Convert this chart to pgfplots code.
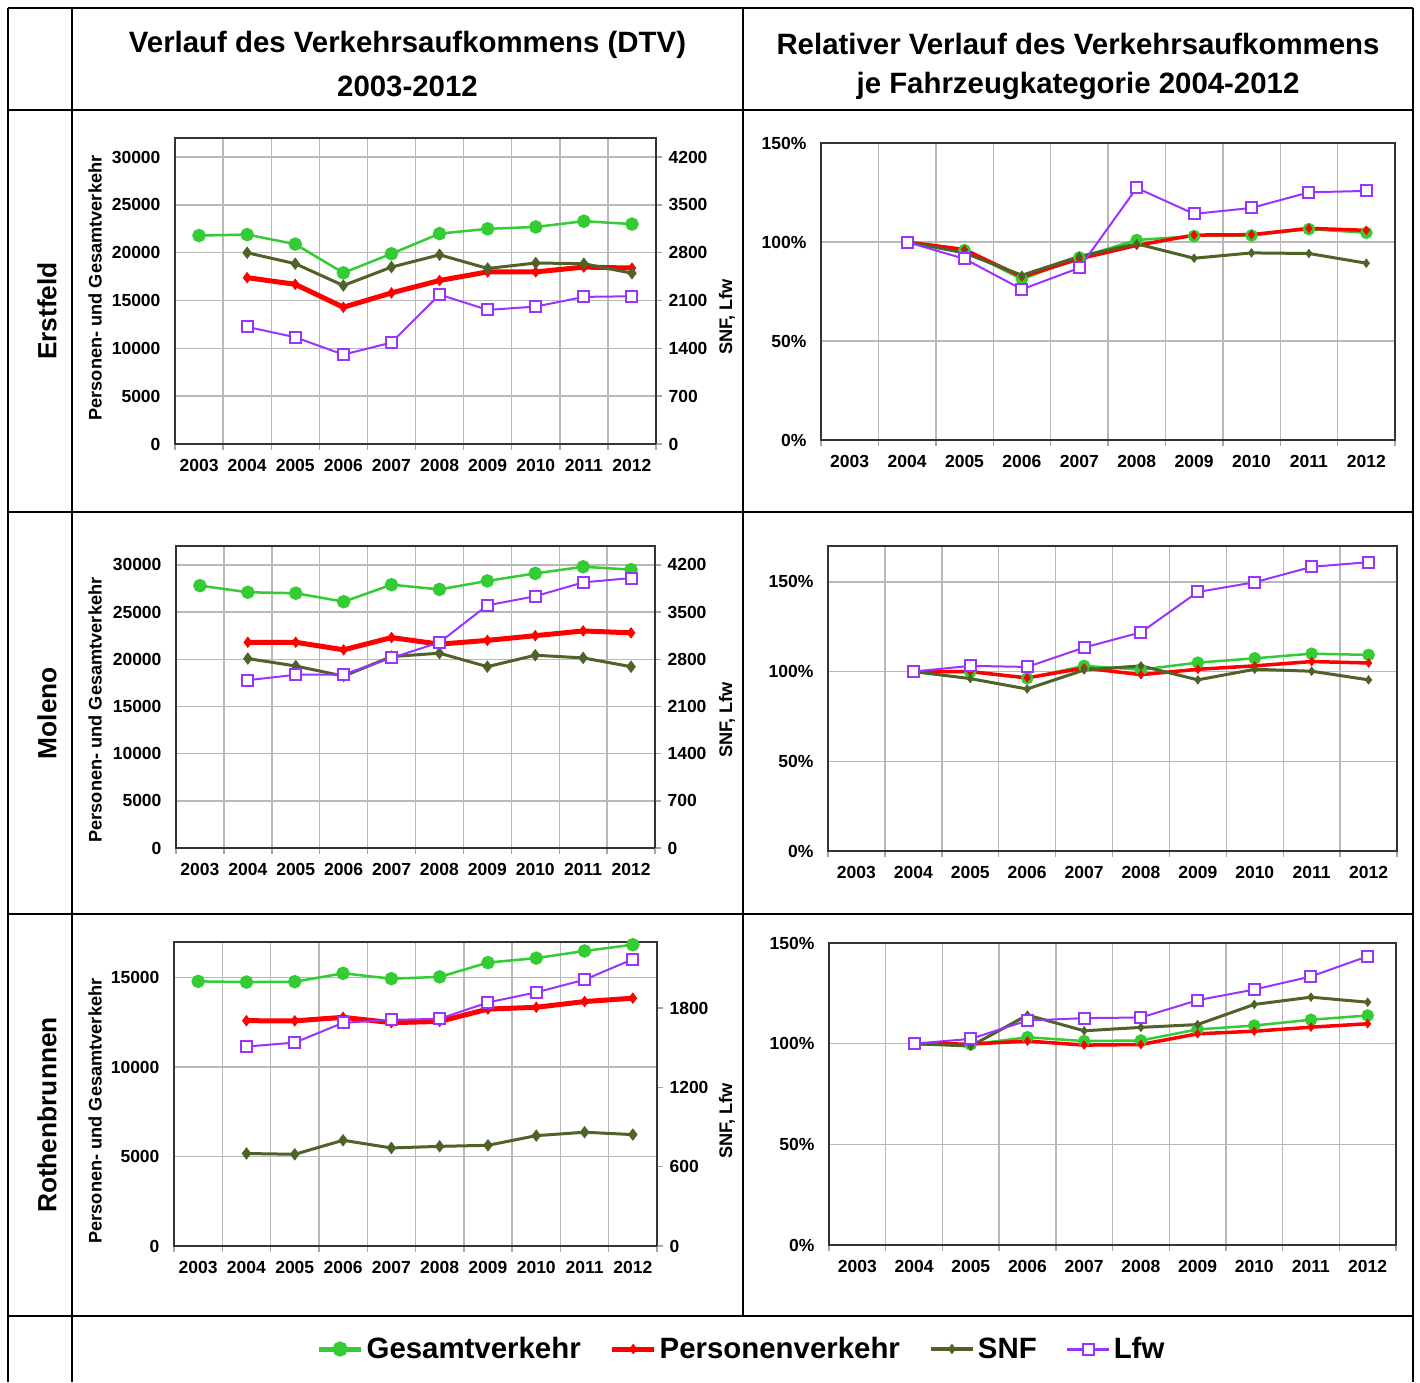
\documentclass[border=0pt]{standalone}
\usepackage{pgfplots}
\pgfplotsset{compat=1.18}
\usepackage{fontspec}
\setmainfont{Liberation Sans}
\definecolor{cGreen}{HTML}{33CC33}
\definecolor{cRed}{HTML}{FF0000}
\definecolor{cOlive}{HTML}{4F6228}
\definecolor{cPurple}{HTML}{9933FF}
\pgfplotsset{
  common/.style={
    scale only axis, anchor=south west, clip=false,
    xmin=0, xmax=10,
    tick align=outside, major tick length=6pt,
    axis line style={draw=black!80, line width=1.6pt},
    tick style={draw=black!35, line width=1.4pt},
    grid style={draw=black!28, line width=1.4pt},
    ticklabel style={font=\fontsize{17.5}{21}\selectfont\bfseries},
    /pgf/number format/assume math mode=true,
    /pgf/number format/1000 sep={},
    scaled y ticks=false,
  },
  xcats/.style={
    xtick={0,1,...,10}, xticklabels={}, xtick pos=left,
    xmajorgrids, ymajorgrids,
    extra x ticks={0.5,1.5,2.5,3.5,4.5,5.5,6.5,7.5,8.5,9.5},
    extra x tick labels={2003,2004,2005,2006,2007,2008,2009,2010,2011,2012},
    extra x tick style={major tick length=0pt, grid=none},
    xticklabel style={yshift=-12pt},
    ytick pos=left, ytick style={draw=none},
    yticklabel style={xshift=-5pt},
  },
  rightax/.style={
    axis x line=none, axis y line*=right, ytick pos=right,
    yticklabel style={xshift=3pt},
  },
  gv/.style={color=cGreen, line width=2.5pt, mark=*, mark size=5.5pt, mark options={solid}},
  pv/.style={color=cRed, line width=5pt, mark=diamond*, mark size=5pt, mark options={solid, line width=1pt}},
  snf/.style={color=cOlive, line width=3pt, mark=diamond*, mark size=5.5pt, mark options={solid, line width=1pt}},
  lfw/.style={color=cPurple, line width=2pt, mark=square*, mark size=5.5pt, mark options={solid, fill=white}},
  gvr/.style={color=cGreen, line width=2.5pt, mark=*, mark size=5pt, mark options={solid}},
  pvr/.style={color=cRed, line width=3.5pt, mark=diamond*, mark size=4pt, mark options={solid, line width=1pt}},
  snfr/.style={color=cOlive, line width=3pt, mark=diamond*, mark size=4pt, mark options={solid, line width=1pt}},
  lfwr/.style={color=cPurple, line width=2pt, mark=square*, mark size=5.5pt, mark options={solid, fill=white}},
}
\begin{document}
\begin{tikzpicture}
\fill[white] (0pt,0pt) rectangle (1420pt,-1382pt);
\useasboundingbox (0pt,0pt) rectangle (1420pt,-1382pt);

% ---------- Erstfeld absolute ----------
\begin{axis}[common, xcats, at={(175pt,-444pt)}, width=481pt, height=306pt,
  ymin=0, ymax=32000, ytick={0,5000,...,30000}]
\addplot[gv] coordinates {(0.5,21800)(1.5,21900)(2.5,20900)(3.5,17900)(4.5,19900)(5.5,22000)(6.5,22500)(7.5,22700)(8.5,23300)(9.5,23000)};
\addplot[pv] coordinates {(1.5,17400)(2.5,16700)(3.5,14300)(4.5,15800)(5.5,17100)(6.5,18000)(7.5,18000)(8.5,18500)(9.5,18400)};
\end{axis}
\begin{axis}[common, rightax, at={(175pt,-444pt)}, width=481pt, height=306pt,
  ymin=0, ymax=4480, ytick={0,700,...,4200}]
\addplot[snf] coordinates {(1.5,2800)(2.5,2640)(3.5,2320)(4.5,2590)(5.5,2770)(6.5,2570)(7.5,2650)(8.5,2640)(9.5,2500)};
\addplot[lfw] coordinates {(1.5,1715)(2.5,1563)(3.5,1309)(4.5,1485)(5.5,2188)(6.5,1963)(7.5,2012)(8.5,2154)(9.5,2163)};
\end{axis}

% ---------- Erstfeld relative ----------
\begin{axis}[common, xcats, at={(821pt,-440pt)}, width=574pt, height=297pt,
  ymin=0, ymax=150, ytick={0,50,100,150}, yticklabel={\pgfmathprintnumber{\tick}\%}]
\addplot[gvr] coordinates {(1.5,100)(2.5,95.9)(3.5,81.2)(4.5,92.2)(5.5,101.0)(6.5,103.0)(7.5,103.3)(8.5,106.5)(9.5,104.7)};
\addplot[pvr] coordinates {(1.5,100)(2.5,96.2)(3.5,82.4)(4.5,91.5)(5.5,98.3)(6.5,103.5)(7.5,103.7)(8.5,106.9)(9.5,105.9)};
\addplot[snfr] coordinates {(1.5,100)(2.5,94.5)(3.5,83.2)(4.5,92.7)(5.5,99.1)(6.5,91.8)(7.5,94.5)(8.5,94.2)(9.5,89.3)};
\addplot[lfwr] coordinates {(1.5,100)(2.5,91.5)(3.5,76.1)(4.5,86.9)(5.5,127.3)(6.5,114.2)(7.5,117.2)(8.5,125.1)(9.5,125.8)};
\end{axis}

% ---------- Moleno absolute ----------
\begin{axis}[common, xcats, at={(176pt,-848pt)}, width=479pt, height=302pt,
  ymin=0, ymax=32000, ytick={0,5000,...,30000}]
\addplot[gv] coordinates {(0.5,27800)(1.5,27100)(2.5,27000)(3.5,26100)(4.5,27900)(5.5,27400)(6.5,28300)(7.5,29100)(8.5,29800)(9.5,29500)};
\addplot[pv] coordinates {(1.5,21800)(2.5,21800)(3.5,21000)(4.5,22300)(5.5,21600)(6.5,22000)(7.5,22500)(8.5,23000)(9.5,22800)};
\end{axis}
\begin{axis}[common, rightax, at={(176pt,-848pt)}, width=479pt, height=302pt,
  ymin=0, ymax=4480, ytick={0,700,...,4200}]
\addplot[snf] coordinates {(1.5,2810)(2.5,2700)(3.5,2550)(4.5,2840)(5.5,2890)(6.5,2690)(7.5,2860)(8.5,2820)(9.5,2690)};
\addplot[lfw] coordinates {(1.5,2490)(2.5,2570)(3.5,2575)(4.5,2820)(5.5,3050)(6.5,3600)(7.5,3735)(8.5,3940)(9.5,4005)};
\end{axis}

% ---------- Moleno relative ----------
\begin{axis}[common, xcats, at={(828pt,-851pt)}, width=569pt, height=305pt,
  ymin=0, ymax=170, ytick={0,50,100,150}, yticklabel={\pgfmathprintnumber{\tick}\%}]
\addplot[gvr] coordinates {(1.5,100)(2.5,99.8)(3.5,96.3)(4.5,103.2)(5.5,101.1)(6.5,105.0)(7.5,107.4)(8.5,110.0)(9.5,109.3)};
\addplot[pvr] coordinates {(1.5,100)(2.5,100.0)(3.5,96.5)(4.5,102.0)(5.5,98.3)(6.5,101.3)(7.5,103.2)(8.5,105.6)(9.5,104.8)};
\addplot[snfr] coordinates {(1.5,100)(2.5,96.1)(3.5,90.3)(4.5,100.9)(5.5,103.2)(6.5,95.4)(7.5,101.3)(8.5,100.2)(9.5,95.4)};
\addplot[lfwr] coordinates {(1.5,100)(2.5,103.2)(3.5,102.6)(4.5,113.4)(5.5,121.9)(6.5,144.4)(7.5,149.8)(8.5,158.4)(9.5,161.0)};
\end{axis}

% ---------- Rothenbrunnen absolute ----------
\begin{axis}[common, xcats, at={(174pt,-1246pt)}, width=483pt, height=304pt,
  ymin=0, ymax=17000, ytick={0,5000,10000,15000}]
\addplot[gv] coordinates {(0.5,14800)(1.5,14760)(2.5,14780)(3.5,15250)(4.5,14950)(5.5,15050)(6.5,15850)(7.5,16100)(8.5,16500)(9.5,16850)};
\addplot[pv] coordinates {(1.5,12600)(2.5,12590)(3.5,12790)(4.5,12490)(5.5,12560)(6.5,13250)(7.5,13350)(8.5,13670)(9.5,13860)};
\end{axis}
\begin{axis}[common, rightax, at={(174pt,-1246pt)}, width=483pt, height=304pt,
  ymin=0, ymax=2300, ytick={0,600,1200,1800}]
\addplot[snf] coordinates {(1.5,700)(2.5,694)(3.5,800)(4.5,742)(5.5,754)(6.5,762)(7.5,835)(8.5,861)(9.5,843)};
\addplot[lfw] coordinates {(1.5,1509)(2.5,1539)(3.5,1689)(4.5,1711)(5.5,1719)(6.5,1843)(7.5,1919)(8.5,2015)(9.5,2170)};
\end{axis}

% ---------- Rothenbrunnen relative ----------
\begin{axis}[common, xcats, at={(829pt,-1245pt)}, width=567pt, height=302pt,
  ymin=0, ymax=150, ytick={0,50,100,150}, yticklabel={\pgfmathprintnumber{\tick}\%}]
\addplot[gvr] coordinates {(1.5,100)(2.5,99.6)(3.5,103.2)(4.5,101.3)(5.5,101.6)(6.5,107.1)(7.5,109.0)(8.5,111.9)(9.5,114.0)};
\addplot[pvr] coordinates {(1.5,100)(2.5,99.8)(3.5,101.3)(4.5,99.3)(5.5,99.6)(6.5,104.9)(7.5,106.2)(8.5,108.2)(9.5,109.9)};
\addplot[snfr] coordinates {(1.5,100)(2.5,98.8)(3.5,114.2)(4.5,106.4)(5.5,108.1)(6.5,109.5)(7.5,119.5)(8.5,123.1)(9.5,120.6)};
\addplot[lfwr] coordinates {(1.5,100)(2.5,102.4)(3.5,111.5)(4.5,112.7)(5.5,113.0)(6.5,121.6)(7.5,126.9)(8.5,133.4)(9.5,143.4)};
\end{axis}

% ---------- Legend ----------
\begin{axis}[hide axis, scale only axis, width=10pt, height=10pt, at={(742pt,-1349pt)}, anchor=center,
  xmin=0, xmax=1, ymin=0, ymax=1,
  legend columns=4,
  legend style={at={(0.5,0.5)}, anchor=center, draw=none, fill=none, inner sep=0pt,
    font=\fontsize{29.4}{34}\selectfont\bfseries,
    /tikz/every even column/.append style={column sep=26pt},
    nodes={inner xsep=3pt}},
  legend image code/.code={\draw[mark repeat=2,mark phase=2,#1] plot coordinates {(0pt,0pt) (21pt,0pt) (42pt,0pt)};}]
\addlegendimage{color=cGreen, line width=5pt, mark=*, mark size=5pt, mark options={solid}}
\addlegendentry{Gesamtverkehr}
\addlegendimage{color=cRed, line width=5pt, mark=diamond*, mark size=4.5pt, mark options={solid, line width=1pt}}
\addlegendentry{Personenverkehr}
\addlegendimage{color=cOlive, line width=4pt, mark=diamond*, mark size=4.5pt, mark options={solid, line width=1pt}}
\addlegendentry{SNF}
\addlegendimage{color=cPurple, line width=3pt, mark=square*, mark size=5.5pt, mark options={solid, fill=white, line width=2pt}}
\addlegendentry{Lfw}
\end{axis}

% ---------- Table and texts ----------
\begin{scope}[x=1pt, y=-1pt]
\draw[line width=2pt] (8,8) -- (1413,8);
\draw[line width=2pt] (8,110) -- (1413,110);
\draw[line width=2pt] (8,512) -- (1413,512);
\draw[line width=2pt] (8,914) -- (1413,914);
\draw[line width=2pt] (8,1316) -- (1413,1316);
\draw[line width=2pt] (8,8) -- (8,1382);
\draw[line width=2pt] (72,8) -- (72,1382);
\draw[line width=2pt] (743,8) -- (743,1316);
\draw[line width=2pt] (1413,8) -- (1413,1382);

\node[font=\fontsize{29.4}{34}\selectfont\bfseries] at (407.5,45) {Verlauf des Verkehrsaufkommens (DTV)};
\node[font=\fontsize{29.4}{34}\selectfont\bfseries] at (407.5,86) {2003-2012};
\node[font=\fontsize{29.4}{34}\selectfont\bfseries] at (1078,44) {Relativer Verlauf des Verkehrsaufkommens};
\node[font=\fontsize{29.4}{34}\selectfont\bfseries] at (1078,86) {je Fahrzeugkategorie 2004-2012};

\node[rotate=90, font=\fontsize{26.3}{30}\selectfont\bfseries] at (47,311) {Erstfeld};
\node[rotate=90, font=\fontsize{26.3}{30}\selectfont\bfseries] at (47,713) {Moleno};
\node[rotate=90, font=\fontsize{26.3}{30}\selectfont\bfseries] at (47,1115) {Rothenbrunnen};

\node[rotate=90, font=\fontsize{18.2}{21}\selectfont\bfseries] at (95,288) {Personen- und Gesamtverkehr};
\node[rotate=90, font=\fontsize{18.2}{21}\selectfont\bfseries] at (95,710) {Personen- und Gesamtverkehr};
\node[rotate=90, font=\fontsize{18.2}{21}\selectfont\bfseries] at (95,1111) {Personen- und Gesamtverkehr};
\node[rotate=90, font=\fontsize{18.2}{21}\selectfont\bfseries] at (727,317) {SNF, Lfw};
\node[rotate=90, font=\fontsize{18.2}{21}\selectfont\bfseries] at (727,720) {SNF, Lfw};
\node[rotate=90, font=\fontsize{18.2}{21}\selectfont\bfseries] at (727,1121) {SNF, Lfw};
\end{scope}
\end{tikzpicture}
\end{document}
